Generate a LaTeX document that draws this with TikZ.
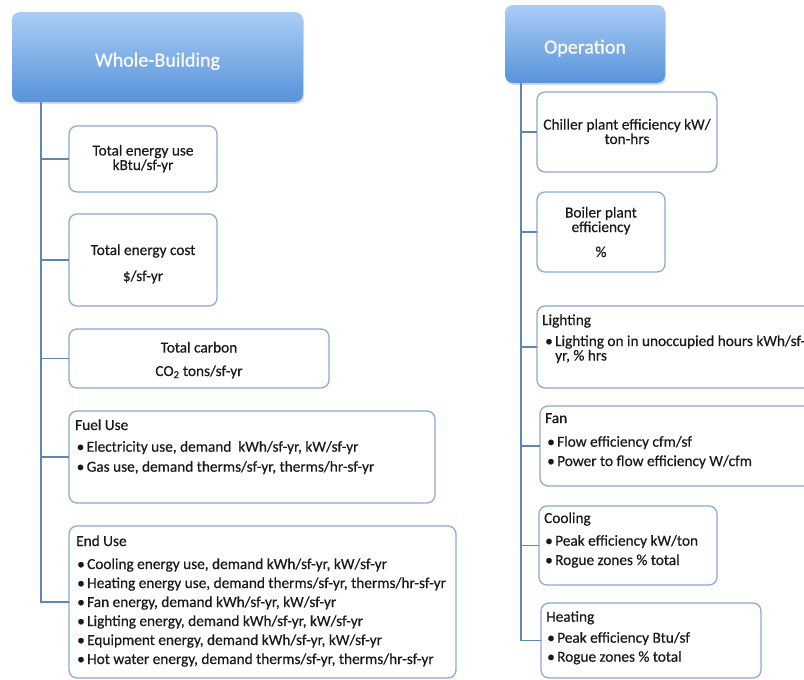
\documentclass[tikz,border=0pt]{standalone}
\usepackage{fontspec}
\setmainfont{Carlito}
\newfontfamily\boxfam{Carlito}[FakeBold=0.5]
\newfontfamily\hdrfam{Carlito}[FakeBold=0.4]
\definecolor{boxc}{HTML}{8EAAD0}
\definecolor{linec}{HTML}{5F86B8}
\definecolor{hdrtop}{HTML}{AACDF5}
\definecolor{hdrbot}{HTML}{5893DA}
\definecolor{textc}{HTML}{1A1A1A}
\definecolor{shadowc}{HTML}{D5DCE6}
\newcommand\bfnt{\boxfam\fontsize{15.3}{18}\selectfont}
\newcommand\hfnt{\hdrfam\fontsize{20}{24}\selectfont}
\newcommand\blt[1]{\makebox[10pt][l]{•}#1}
\begin{document}
\begin{tikzpicture}[x=1pt,y=-1pt,
  box/.style={draw=boxc, line width=1.3pt, rounded corners=8pt, fill=white, inner sep=0pt, outer sep=0pt, anchor=north west},
  hdr/.style={rounded corners=8pt, top color=hdrtop, bottom color=hdrbot, inner sep=0pt, outer sep=0pt, anchor=north west},
  hshadow/.style={fill=shadowc, rounded corners=8pt, inner sep=0pt, outer sep=0pt, anchor=north west},
  htxt/.style={font=\hfnt, text=white, inner sep=0pt, anchor=base},
  ctxt/.style={font=\bfnt, text=textc, inner sep=0pt, anchor=base},
  ltxt/.style={font=\bfnt, text=textc, inner sep=0pt, anchor=base west},
  conn/.style={draw=linec, line width=1.5pt}]
\useasboundingbox (0,0) rectangle (804,680);
\fill[white] (0,0) rectangle (804,680);

% ---------- left column ----------
\node[hshadow, minimum width=291pt, minimum height=90pt] (hLs) at (13,14) {};
\node[hdr, minimum width=291pt, minimum height=90pt] (hL) at (12,12) {};
\node[htxt] (hLt) at (157.5,66.5) {Whole-Building};
\coordinate (tL) at ([xshift=29pt]hL.south west);

\node[box, minimum width=148pt, minimum height=66pt] (b1) at (69,126) {};
\node[box, minimum width=148pt, minimum height=92pt] (b2) at (69,214) {};
\node[box, minimum width=260pt, minimum height=59pt] (b3) at (69,329) {};
\node[box, minimum width=366pt, minimum height=92pt] (b4) at (69,411) {};
\node[box, minimum width=387pt, minimum height=152pt] (b5) at (69,526) {};

\draw[conn] (tL) |- (b5.west);
\foreach \b in {b1,b2,b3,b4} \draw[conn] (tL |- \b.west) -- (\b.west);

% multi-line nodes: base anchor = baseline of the last line
\node[ctxt, align=center] (t1a) at (143,170) {Total energy use\\[-3.5pt]kBtu/sf-yr};
\node[ctxt] (t2a) at (143,255) {Total energy cost};
\node[ctxt] (t2b) at (143,281) {\$/sf-yr};
\node[ctxt] (t3a) at (199,352.5) {Total carbon};
\node[ctxt] (t3b) at (199,376) {CO\textsubscript{2} tons/sf-yr};

\node[ltxt] (t4h) at (75,430) {Fuel Use};
\node[ltxt] (t4a) at (76.5,451.7) {\blt{Electricity use, demand\ \ kWh/sf-yr, kW/sf-yr}};
\node[ltxt] (t4b) at (76.5,471.7) {\blt{Gas use, demand therms/sf-yr, therms/hr-sf-yr}};

\node[ltxt] (t5h) at (76,546) {End Use};
\node[ltxt] (t5a) at (77,569) {\blt{Cooling energy use, demand kWh/sf-yr, kW/sf-yr}};
\node[ltxt] (t5b) at (77,588) {\blt{Heating energy use, demand therms/sf-yr, therms/hr-sf-yr}};
\node[ltxt] (t5c) at (77,607) {\blt{Fan energy, demand kWh/sf-yr, kW/sf-yr}};
\node[ltxt] (t5d) at (77,626) {\blt{Lighting energy, demand kWh/sf-yr, kW/sf-yr}};
\node[ltxt] (t5e) at (77,645) {\blt{Equipment energy, demand kWh/sf-yr, kW/sf-yr}};
\node[ltxt] (t5f) at (77,664) {\blt{Hot water energy, demand therms/sf-yr, therms/hr-sf-yr}};

% ---------- right column ----------
\node[hshadow, minimum width=160pt, minimum height=78pt] (hRs) at (506,7) {};
\node[hdr, minimum width=160pt, minimum height=78pt] (hR) at (505,5) {};
\node[htxt] (hRt) at (585,53.5) {Operation};
\coordinate (tR) at ([xshift=16pt]hR.south west);

\node[box, minimum width=180pt, minimum height=80pt] (r1) at (537,92) {};
\node[box, minimum width=128pt, minimum height=80pt] (r2) at (537,192) {};
\node[box, minimum width=300pt, minimum height=82pt] (r3) at (537,306) {};
\node[box, minimum width=300pt, minimum height=80pt] (r4) at (540,406) {};
\node[box, minimum width=178pt, minimum height=79pt] (r5) at (539,506) {};
\node[box, minimum width=220pt, minimum height=75pt] (r6) at (541,603) {};

\draw[conn] (tR) |- (r6.west);
\foreach \b in {r1,r2,r3,r4,r5} \draw[conn] (tR |- \b.west) -- (\b.west);

\node[ctxt, align=center] (s1a) at (627,144) {Chiller plant efficiency kW/\\[-3.5pt]ton-hrs};
\node[ctxt, align=center] (s2a) at (601,232) {Boiler plant\\[-3.5pt]efficiency};
\node[ctxt] (s2c) at (601,257) {\%};

\node[ltxt] (s3h) at (542,325) {Lighting};
\node[ltxt, align=left] (s3a) at (545,360.5) {\blt{Lighting on in unoccupied hours kWh/sf-}\\[-3.5pt]\hspace*{10pt}yr, \% hrs};

\node[ltxt] (s4h) at (545,423) {Fan};
\node[ltxt] (s4a) at (547,446.7) {\blt{Flow efficiency cfm/sf}};
\node[ltxt] (s4b) at (547,466) {\blt{Power to flow efficiency W/cfm}};

\node[ltxt] (s5h) at (544,523) {Cooling};
\node[ltxt] (s5a) at (545,545.7) {\blt{Peak efficiency kW/ton}};
\node[ltxt] (s5b) at (545,565) {\blt{Rogue zones \% total}};

\node[ltxt] (s6h) at (546,621.7) {Heating};
\node[ltxt] (s6a) at (547,642.7) {\blt{Peak efficiency Btu/sf}};
\node[ltxt] (s6b) at (547,661.7) {\blt{Rogue zones \% total}};
\end{tikzpicture}
\end{document}
